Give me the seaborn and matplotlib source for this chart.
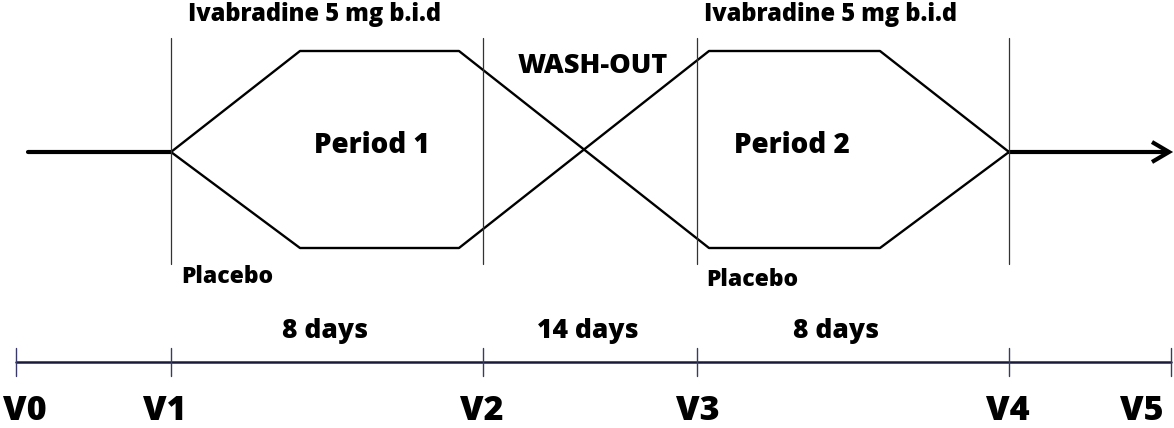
import matplotlib
matplotlib.use("Agg")
import matplotlib.pyplot as plt
import seaborn as sns
import pandas as pd

sns.set_theme(style="white")
plt.rcParams['font.family'] = ['Open Sans', 'DejaVu Sans']

# ---- data (diagram coordinates in pixel space of a 1174x428 canvas) ----
visits = ["V0", "V1", "V2", "V3", "V4", "V5"]
visit_x = [16, 171, 483, 697, 1009, 1171]
visit_label_x = [25, 165, 482, 698, 1008, 1142]
phase_x = [171, 483, 697, 1009]           # vertical phase separators
durations = ["8 days", "14 days", "8 days"]
duration_x = [325, 588, 836]

ivab_x = [171, 300, 459, 709, 880, 1009]
ivab_y = [152, 51, 51, 248, 248, 152]
plac_x = [171, 300, 459, 709, 880, 1009]
plac_y = [152, 248, 248, 51, 51, 152]

lead_x = [28, 171]
lead_y = [152, 152]
tail_x = [1009, 1168]
tail_y = [152, 152]

W, H = 1174, 428
fig = plt.figure(figsize=(W / 100, H / 100), dpi=100)
ax = fig.add_axes([0, 0, 1, 1])
ax.set_xlim(0, W)
ax.set_ylim(H, 0)
ax.axis("off")

df_paths = pd.concat([
    pd.DataFrame({"x": ivab_x, "y": ivab_y, "arm": "Ivabradine"}),
    pd.DataFrame({"x": plac_x, "y": plac_y, "arm": "Placebo"}),
])
sns.lineplot(data=df_paths, x="x", y="y", units="arm", estimator=None, sort=False,
             color="black", linewidth=1.7, ax=ax, legend=False)

# lead-in and run-out lines
sns.lineplot(x=lead_x, y=lead_y, color="black", linewidth=3.0, ax=ax, sort=False)
sns.lineplot(x=tail_x, y=tail_y, color="black", linewidth=3.0, ax=ax, sort=False)
# arrow head (chevron)
ax.plot([1152, 1169, 1152], [142, 152, 162], color="black", linewidth=3.0,
        solid_joinstyle="miter", solid_capstyle="butt")

# phase separators
for x in phase_x:
    ax.plot([x, x], [38, 264], color="#333333", linewidth=0.9)

# timeline
tl_color = "#1a1a3a"
ax.plot([visit_x[0], visit_x[-1]], [362, 362], color=tl_color, linewidth=1.8)
for x in visit_x:
    ax.plot([x, x], [348, 376], color="#3a3a6a", linewidth=1.0)

txt = dict(color="black", fontweight=800)
for lab, x in zip(visits, visit_label_x):
    ax.text(x, 420, lab, ha="center", va="baseline", fontsize=24.5, **txt)
for lab, x in zip(durations, duration_x):
    ax.text(x, 338, lab, ha="center", va="baseline", fontsize=19, **txt)

ax.text(314, 21, "Ivabradine 5 mg b.i.d", ha="center", va="baseline", fontsize=17, **txt)
ax.text(830, 21, "Ivabradine 5 mg b.i.d", ha="center", va="baseline", fontsize=17, **txt)
ax.text(593, 73, "WASH-OUT", ha="center", va="baseline", fontsize=19.5, **txt)
ax.text(372, 153, "Period 1", ha="center", va="baseline", fontsize=20, **txt)
ax.text(792, 153, "Period 2", ha="center", va="baseline", fontsize=20, **txt)
ax.text(181, 283, "Placebo", ha="left", va="baseline", fontsize=16.5, **txt)
ax.text(706, 286, "Placebo", ha="left", va="baseline", fontsize=16.5, **txt)

fig.savefig("out.png", dpi=100, facecolor="white")
